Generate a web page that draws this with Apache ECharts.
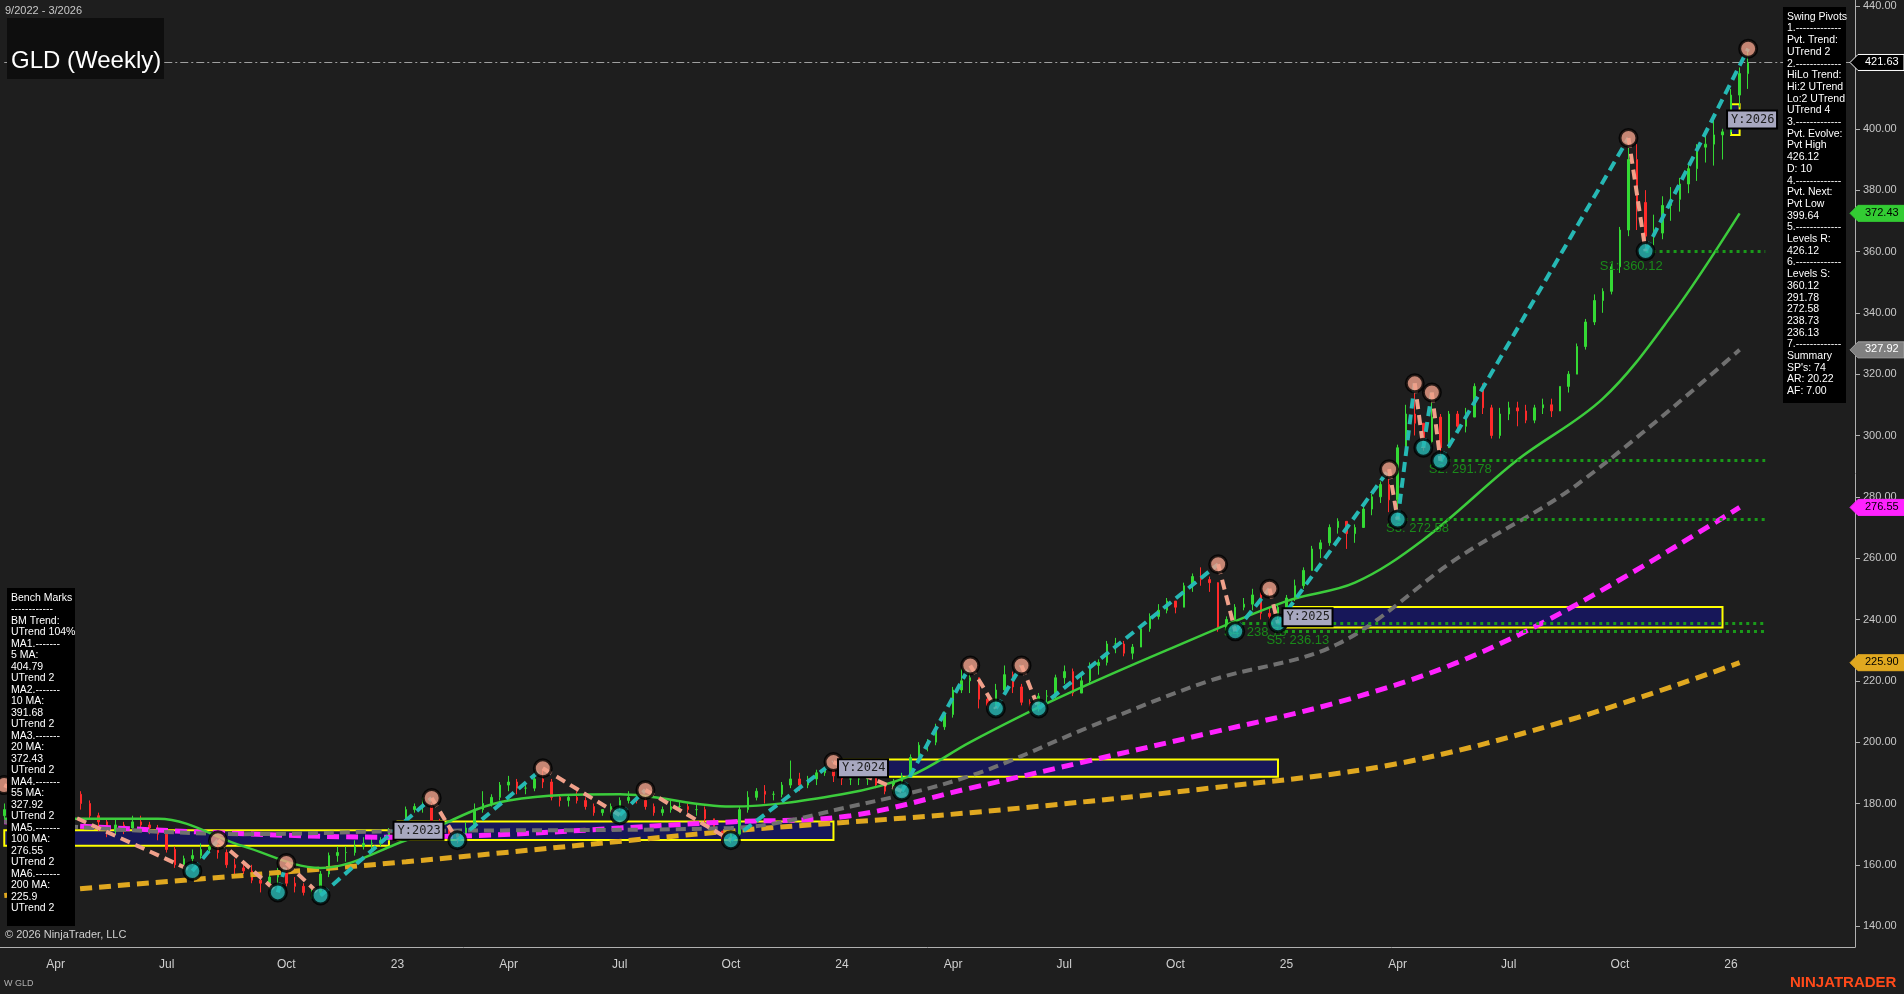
<!DOCTYPE html>
<html>
<head>
<meta charset="utf-8">
<script src="https://cdn.jsdelivr.net/npm/echarts@6/dist/echarts.min.js"></script>
<style>
html,body{margin:0;padding:0;background:#1e1e1e;}
#main{width:1904px;height:994px;}
</style>
</head>
<body>
<div id="main"></div>
<script>
// weekly closes from 2022-02-18, by quarter
var closes = [
  178,182,180,179,181,180,
  181,182,183,180,176,174,171,173,172,174,173,172,170,
  165,160,162,163,165,166,164,160,159,158,155,154,156,
  158,154,153,151,151,157,163,164,164,166,167,167,168,
  171,173,178,179,179,174,172,170,169,172,178,180,182,
  186,187,185,185,188,187,182,181,182,181,179,177,178,
  179,181,182,181,179,177,178,179,179,178,178,175,171,
  168,170,178,182,184,183,183,186,188,186,188,190,191,
  189,188,188,188,189,186,184,187,189,195,199,200,205,
  209,217,220,221,214,212,217,222,218,213,211,215,215,
  221,223,216,220,225,226,232,232,229,231,237,241,243,
  246,244,251,254,253,252,237,240,244,245,248,242,241,
  244,247,251,256,263,265,270,272,268,270,276,280,284,
  279,296,307,304,298,306,296,307,303,306,316,309,300,
  307,309,308,305,309,310,308,316,320,329,337,344,347,
  355,367,390,376,365,366,375,377,382,387,394,395,398,
  399,411,418,421.63
];
var highs = [
  180,185,184,182,183,183,
  183,184,186,184,181,177,175,175,174,176,176,174,173,
  171,166,163,165,167,168,167,165,162,160,160,157,157,
  159,159,156,154,153,158,164,166,166,168,169,169,169,
  172,174,179,180,182,180,175,173,171,174,180,184,183,
  187,189,188,187,190,191,188,183,183,184,182,180,178,
  180,182,184,183,182,180,179,181,181,180,180,179,175,
  171,172,179,184,185,186,184,187,194,190,189,191,192,
  191,190,189,190,190,189,187,188,190,196,200,201,206,
  210,218,224,223,221,216,219,225,223,219,214,216,217,
  222,225,224,222,226,227,233,234,233,232,238,242,245,
  247,246,252,255,257,254,251,241,245,247,250,249,244,
  245,248,253,257,264,266,271,273,272,271,277,281,285,
  289,297,310,317,304,314,307,308,308,309,317,317,310,
  309,311,311,310,310,312,312,316,321,330,338,346,348,
  356,368,397,395,380,372,378,381,384,389,395,398,403,
  400,413,420,426.12
];
var lows = [
  175,177,178,176,178,178,
  178,179,180,178,175,171,169,170,170,171,171,170,168,
  164,159,159,160,162,164,162,159,157,157,154,151,152,
  153,153,151,150,149,150,156,161,161,163,165,165,166,
  168,170,173,177,177,173,171,169,167,168,172,177,179,
  181,184,183,183,184,185,181,179,179,180,178,176,176,
  176,178,180,180,178,176,176,177,177,177,176,174,170,
  167,167,170,177,181,180,181,182,185,184,185,186,189,
  187,186,186,186,186,185,183,183,186,189,195,197,199,
  204,208,216,216,211,211,212,216,216,212,210,210,212,
  214,219,215,216,219,222,225,229,228,227,231,236,240,
  242,242,244,249,251,249,236,235,238,243,243,240,239,
  239,243,246,250,256,260,264,268,263,265,270,274,278,
  275,273,297,300,295,297,292,297,301,301,307,307,299,
  299,305,303,304,304,307,306,309,314,320,328,336,340,
  346,353,365,367,360,362,364,370,373,379,383,389,388,
  390,398,407,413
];
var firstOpen = 176;

// moving averages read at anchor weeks [weekIndex, value]
var ma20 = [[0,175],[9,175],[18,175],[28,166],[37,159],[47,168],[59,181],[72,183],[85,179],[98,183],[106,189],[113,200],[123,214],[136,230],[150,246],[158,252],[166,266],[177,292],[187,312],[195,339],[203,372.43]];
var ma55 = [[0,174],[28,170],[47,171],[85,172],[99,179],[113,189],[127,205],[141,220],[156,232],[170,260],[184,284],[203,327.92]];
var ma100 = [[0,174],[45,169],[85,174],[99,176],[113,185],[127,194],[141,203],[156,213],[170,226],[184,245],[203,276.55]];
var ma200 = [[0,150],[8,152],[47,161],[85,171],[113,177],[141,185],[163,193],[184,208],[203,225.9]];

// swing pivots: week index, price, H/L
var pivotIdx   = [0,  22, 25, 32, 33, 37, 50, 53, 63,   72,   75,   85, 97,   105, 113, 116, 119, 121, 142, 144,   148, 149,   162, 163,   165, 166, 167, 168,   190, 192,   204];
var pivotPrice = [186,158,168,151,160.6,150,181.8,168,191.5,176.2,184.4,168,193.5,184,225,211,225,211,258,236.13,250,238.73,289,272.58,317,296,314,291.78,397,360.12,426.12];
var pivotType  = ['H','L','H','L','H','L','H','L','H','L','H','L','H','L','H','L','H','L','H','L','H','L','H','L','H','L','H','L','H','L','H'];

// support levels: [startIndex, price, label]
var supports = [[192,360.12,'S1: 360.12'],[168,291.78,'S2: 291.78'],[163,272.58,'S3: 272.58'],[144,238.73,'S4: 238.73'],[149,236.13,'S5: 236.13']];

// yearly range boxes: [startIdx, endIdx, high, low, label]
var yearBoxes = [[0,45,171.3,166.2,''],[46,97,174.1,168.1,'Y:2023'],[98,149,194.3,188.7,'Y:2024'],[150,201,244.1,237.4,'Y:2025'],[202,203,408,398,'Y:2026']];

var yTicks = [140,160,180,200,220,240,260,280,300,320,340,360,380,400,420,440];
var startDate = new Date(2022, 1, 18);
var padWeeks = 12;

var swingLines = ['Swing Pivots','1.-------------','Pvt. Trend:','UTrend 2','2.-------------','HiLo Trend:','Hi:2 UTrend','Lo:2 UTrend','UTrend 4','3.-------------','Pvt. Evolve:','Pvt High','426.12','D: 10','4.-------------','Pvt. Next:','Pvt Low','399.64','5.-------------','Levels R:','426.12','6.-------------','Levels S:','360.12','291.78','272.58','238.73','236.13','7.-------------','Summary','SP\'s: 74','AR: 20.22','AF: 7.00'];
var benchLines = ['Bench Marks','------------','BM Trend:','UTrend 104%','MA1.-------','5 MA:','404.79','UTrend 2','MA2.-------','10 MA:','391.68','UTrend 2','MA3.-------','20 MA:','372.43','UTrend 2','MA4.-------','55 MA:','327.92','UTrend 2','MA5.-------','100 MA:','276.55','UTrend 2','MA6.-------','200 MA:','225.9','UTrend 2'];

var chart = echarts.init(document.getElementById('main'));
var FONT = 'Liberation Sans, Arial, sans-serif';

var cats = [];
var labelMap = {};
var prevMonth = -1;
for (var i = 0; i < closes.length + padWeeks; i++) {
    var d = new Date(startDate.getTime() + i * 7 * 86400000);
    cats.push(String(i));
    var m = d.getMonth();
    if (m !== prevMonth && (m % 3 === 0) && i < closes.length) {
        labelMap[i] = m === 0 ? String(d.getFullYear()).slice(2) : ['Jan','Feb','Mar','Apr','May','Jun','Jul','Aug','Sep','Oct','Nov','Dec'][m];
    }
    prevMonth = m;
}

var ohlc = [];
for (var i = 0; i < closes.length; i++) {
    var o = i === 0 ? firstOpen : closes[i - 1];
    ohlc.push([o, closes[i], lows[i], highs[i]]);
}

var upLegs = [], downLegs = [];
for (var i = 0; i < pivotIdx.length - 1; i++) {
    var target = pivotType[i] === 'L' ? upLegs : downLegs;
    target.push([pivotIdx[i], pivotPrice[i]], [pivotIdx[i + 1], pivotPrice[i + 1]], '-');
}
var highPts = [], lowPts = [];
for (var i = 0; i < pivotIdx.length; i++) {
    (pivotType[i] === 'H' ? highPts : lowPts).push([pivotIdx[i], pivotPrice[i]]);
}

var supportLines = supports.map(function (s) {
    return [{ coord: [s[0], s[1]] }, { coord: [closes.length + 1, s[1]] }];
});
var supportLabels = supports.map(function (s, k) {
    return { value: s[2], coord: [s[0] - (k === 0 ? 6 : 2), s[1] - (k === 0 ? 5 : 3)] };
});

var boxAreas = yearBoxes.map(function (b) {
    return [{ coord: [b[0], b[2]] }, { coord: [b[1], b[3]] }];
});

var maLine = function (data, color, width, dash) {
    return {
        type: 'line', data: data, smooth: 0.35, symbol: 'none', silent: true,
        lineStyle: { color: color, width: width, type: dash }, z: 3
    };
};

var option = {
    backgroundColor: '#1e1e1e',
    animation: false,
    grid: { left: 0, right: 49, top: 0, bottom: 47 },
    xAxis: {
        type: 'category', data: cats, boundaryGap: true,
        axisLine: { lineStyle: { color: '#b0b0b0' } },
        axisTick: { interval: function (i) { return labelMap[i] !== undefined; }, lineStyle: { color: '#b0b0b0' }, length: 5 },
        axisLabel: {
            interval: function (i) { return labelMap[i] !== undefined; },
            formatter: function (v, i) { return labelMap[i] || ''; },
            color: '#d0d0d0', fontFamily: FONT, fontSize: 12, margin: 12
        },
        splitLine: { show: false }
    },
    yAxis: {
        type: 'value', position: 'right', min: 133.2, max: 442, scale: true,
        axisLine: { show: true, lineStyle: { color: '#b0b0b0' } },
        axisTick: { show: true, customValues: yTicks, lineStyle: { color: '#b0b0b0' }, length: 5 },
        axisLabel: { customValues: yTicks, color: '#c8c8c8', fontFamily: FONT, fontSize: 11, margin: 8, formatter: function (v) { return v.toFixed(2); } },
        splitLine: { show: false }
    },
    series: [
        {
            type: 'candlestick', data: ohlc, barMaxWidth: 2, z: 2,
            itemStyle: { color: '#34d934', color0: '#ff2a2a', borderColor: '#34d934', borderColor0: '#ff2a2a', borderWidth: 1 },
            markArea: {
                silent: true,
                itemStyle: { color: 'rgba(22,22,100,0.85)', borderColor: '#ffff00', borderWidth: 2 },
                data: boxAreas
            },
            markLine: {
                silent: true, symbol: 'none',
                lineStyle: { color: '#1a9a1a', type: [3, 4], width: 3 },
                label: { show: false },
                data: supportLines.concat([[{ coord: [0, 421.63], lineStyle: { color: '#a0a0a0', type: [8, 3, 2, 3], width: 1 } }, { coord: [closes.length + padWeeks - 1, 421.63] }]])
            },
            markPoint: {
                silent: true, symbol: 'rect', symbolSize: 1,
                itemStyle: { color: 'transparent' },
                label: { show: true, color: '#1a8a1a', fontFamily: FONT, fontSize: 13, formatter: function (p) { return p.value; }, position: 'right' },
                data: supportLabels
            }
        },
        maLine(ma200, '#e0a820', 5, [12, 7]),
        maLine(ma100, '#ff22ff', 5, [12, 7]),
        maLine(ma55, '#707070', 4, [10, 6]),
        maLine(ma20, '#3ccc3c', 2.5, 'solid'),
        { type: 'line', data: upLegs, symbol: 'none', connectNulls: false, lineStyle: { color: '#26b8b4', width: 4, type: [10, 6] }, z: 5 },
        { type: 'line', data: downLegs, symbol: 'none', connectNulls: false, lineStyle: { color: '#f0a08a', width: 4, type: [10, 6] }, z: 5 },
        { type: 'scatter', data: highPts, symbolSize: 17, itemStyle: { color: '#f0a08a', borderColor: '#000', borderWidth: 3 }, z: 6 },
        { type: 'scatter', data: lowPts, symbolSize: 17, itemStyle: { color: '#26b8b4', borderColor: '#000', borderWidth: 3 }, z: 6 }
    ]
};
chart.setOption(option);

// overlay text: tags, panels, title
var g = [];
var tag = function (v, bg, fg, border) {
    var y = chart.convertToPixel({ yAxisIndex: 0 }, v);
    g.push({ type: 'polygon', shape: { points: [[1850, y], [1858, y - 8], [1904, y - 8], [1904, y + 8], [1858, y + 8]] }, style: { fill: bg, stroke: border, lineWidth: 1 }, z: 20 });
    g.push({ type: 'text', x: 1865, y: y - 6, style: { text: v.toFixed(2), fill: fg, font: '11px ' + FONT }, z: 21 });
};
tag(421.63, '#000000', '#ffffff', '#ffffff');
tag(372.43, '#33cc33', '#000000', '#33cc33');
tag(327.92, '#808080', '#ffffff', '#a0a0a0');
tag(276.55, '#ff22ff', '#000000', '#ff22ff');
tag(225.9, '#e0a820', '#000000', '#e0a820');

var panel = function (x, y, w, h, lines, lh) {
    g.push({ type: 'rect', shape: { x: x, y: y, width: w, height: h }, style: { fill: '#000000' }, z: 20 });
    g.push({ type: 'text', x: x + 4, y: y + 4, style: { text: lines.join('\n'), fill: '#ffffff', font: '10.5px ' + FONT, lineHeight: lh }, z: 21 });
};
panel(1783, 7, 63, 396, swingLines, 11.7);
panel(7, 588, 68, 338, benchLines, 11.5);

g.push({ type: 'rect', shape: { x: 7, y: 18, width: 157, height: 61 }, style: { fill: '#0e0e0e' }, z: 20 });
g.push({ type: 'text', x: 11, y: 49, style: { text: 'GLD (Weekly)', fill: '#ffffff', font: '24px ' + FONT }, z: 21 });
g.push({ type: 'text', x: 5, y: 5, style: { text: '9/2022 - 3/2026', fill: '#c8c8c8', font: '11px ' + FONT }, z: 21 });
g.push({ type: 'text', x: 5, y: 929, style: { text: '\u00a9 2026 NinjaTrader, LLC', fill: '#d0d0d0', font: '11px ' + FONT }, z: 21 });
g.push({ type: 'text', x: 4, y: 979, style: { text: 'W GLD', fill: '#b0b0b0', font: '9px ' + FONT }, z: 21 });
g.push({ type: 'text', x: 1790, y: 975, style: { text: 'NINJATRADER', fill: '#ff4a1a', font: 'bold 15px ' + FONT }, z: 21 });

// year box labels
yearBoxes.forEach(function (b) {
    if (!b[4]) return;
    var p = chart.convertToPixel({ seriesIndex: 0 }, [b[0], (b[2] + b[3]) / 2]);
    g.push({ type: 'rect', shape: { x: p[0] - 4, y: p[1] - 9, width: 50, height: 18 }, style: { fill: '#a8a8c0', stroke: '#000', lineWidth: 2 }, z: 22 });
    g.push({ type: 'text', x: p[0], y: p[1] - 6, style: { text: b[4], fill: '#202020', font: '12px DejaVu Sans Mono, monospace' }, z: 23 });
});
chart.setOption({ graphic: g });
</script>
</body>
</html>
